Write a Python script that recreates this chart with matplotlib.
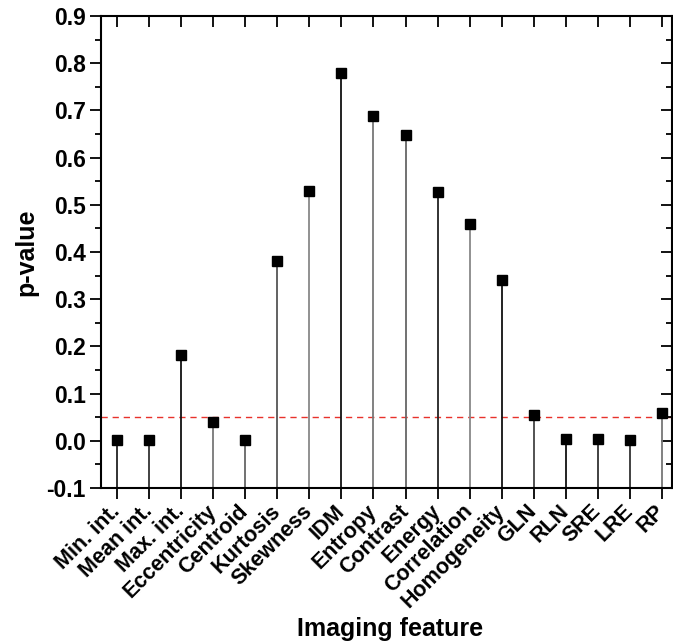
import matplotlib
matplotlib.use("Agg")
import matplotlib.pyplot as plt
from matplotlib.ticker import MultipleLocator

plt.rcParams['font.family'] = ['Liberation Sans', 'DejaVu Sans']
plt.rcParams['font.weight'] = 'bold'

features = ["Min. int.", "Mean int.", "Max. int.", "Eccentricity", "Centroid",
            "Kurtosis", "Skewness", "IDM", "Entropy", "Contrast", "Energy",
            "Correlation", "Homogeneity", "GLN", "RLN", "SRE", "LRE", "RP"]
p_values = [0.002, 0.002, 0.181, 0.039, 0.002, 0.381, 0.530, 0.780, 0.689,
            0.649, 0.527, 0.460, 0.340, 0.054, 0.004, 0.004, 0.002, 0.060]
stem_colors = ["#222222", "#333333", "#111111", "#777777", "#666666",
               "#555555", "#888888", "#111111", "#777777", "#666666",
               "#222222", "#888888", "#111111", "#444444", "#111111",
               "#333333", "#333333", "#777777"]
y_ticks = [-0.1, 0.0, 0.1, 0.2, 0.3, 0.4, 0.5, 0.6, 0.7, 0.8, 0.9]
threshold = 0.05

fig = plt.figure(figsize=(6.73, 6.44), dpi=100)
ax = fig.add_axes([0.150, 0.2422, 0.848, 0.7329])

x = list(range(len(features)))
ymin, ymax = y_ticks[0], y_ticks[-1]

ax.vlines(x, ymin, p_values, colors=stem_colors, linewidth=1.3, zorder=2)
ax.plot(x, p_values, 's', color='black', markersize=6.5, zorder=3)
ax.axhline(threshold, color='#e8322b', linestyle=(0, (4.5, 3.5)),
           linewidth=1.0, zorder=1)

ax.set_xlim(-0.5, 17.3)
ax.set_ylim(ymin, ymax)

ax.set_yticks(y_ticks)
ax.set_yticklabels([f"{v:.1f}" for v in y_ticks], fontsize=16.5,
                   fontweight='bold')
ax.yaxis.set_minor_locator(MultipleLocator(0.05))

ax.set_xticks(x)
ax.set_xticklabels(features, rotation=45, ha='right', va='center',
                   rotation_mode='anchor', fontsize=15.5, fontweight='bold')

ax.tick_params(axis='x', which='major', direction='out', length=8, width=1.3,
               top=True, pad=6.5)
ax.tick_params(axis='y', which='major', direction='out', length=8, width=1.3,
               right=True, pad=3)
ax.tick_params(axis='y', which='minor', direction='out', length=4.5, width=1.3,
               right=True)

# mirrored ticks on the top and right point into the plot
for t in ax.xaxis.get_major_ticks():
    t.tick2line.set_marker(3)  # TICKDOWN
for t in ax.yaxis.get_major_ticks() + ax.yaxis.get_minor_ticks():
    t.tick2line.set_marker(0)  # TICKLEFT

for s in ax.spines.values():
    s.set_linewidth(1.5)

ax.set_ylabel("p-value", fontsize=18, fontweight='bold', labelpad=6)
fig.text(0.58, 1 - 636 / 644, "Imaging feature", fontsize=18,
         fontweight='bold', ha='center', va='baseline')

fig.savefig("out.png", dpi=100)
